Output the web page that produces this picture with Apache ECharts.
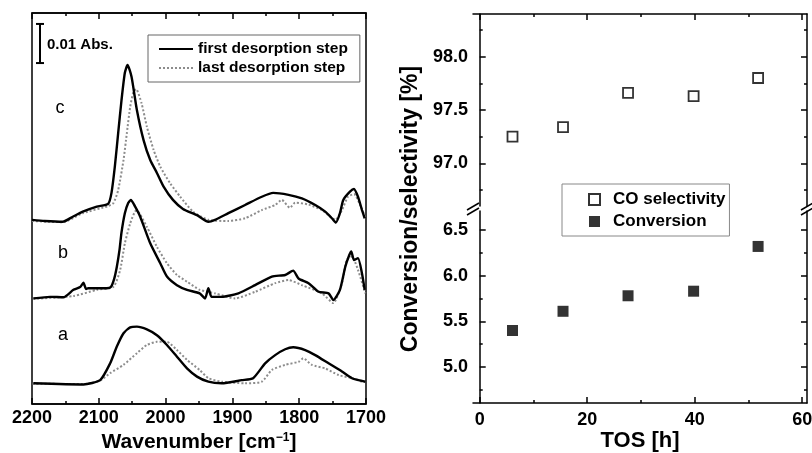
<!DOCTYPE html>
<html>
<head>
<meta charset="utf-8">
<script src="https://cdn.jsdelivr.net/npm/echarts@6/dist/echarts.min.js"></script>
<style>
  html, body { margin: 0; padding: 0; background: #fff; }
  #chart { width: 812px; height: 453px; }
</style>
</head>
<body>
<div id="chart"></div>
<script>
// IR spectra: [wavenumber, absorbance x 1000 incl. stacking offset]
var cFirst = [[2200,47.1],[2181,46.8],[2154,46.6],[2139,47.9],[2124,49.2],[2103,50.5],[2086,51.2],[2081,54.0],[2076,60.7],[2071,69.3],[2066,77.7],[2061,84.7],[2057,86.7],[2051,83.7],[2043,75.2],[2033,67.5],[2023,62.4],[2013,59.1],[2003,55.6],[1989,52.2],[1974,49.9],[1953,48.3],[1936,46.6],[1926,47.1],[1906,48.8],[1881,50.9],[1856,53.0],[1839,54.0],[1816,53.5],[1796,52.6],[1776,50.9],[1761,49.2],[1751,47.5],[1745,46.4],[1739,48.8],[1734,52.2],[1724,54.3],[1718,55.0],[1712,53.0],[1706,49.6],[1702,47.5]];
var cLast = [[2200,46.8],[2154,46.5],[2124,48.8],[2086,50.6],[2078,51.4],[2071,54.7],[2063,62.4],[2058,69.3],[2053,76.0],[2048,79.9],[2044,80.5],[2036,76.9],[2028,70.9],[2018,65.0],[2008,60.7],[1993,56.4],[1978,53.0],[1959,49.2],[1936,47.1],[1906,46.8],[1881,47.5],[1856,49.6],[1836,50.9],[1826,52.2],[1814,50.2],[1806,51.5],[1786,51.0],[1766,49.6],[1746,47.1],[1736,49.6],[1727,53.0],[1718,53.7],[1709,51.0],[1701,47.6]];
var bFirst = [[2198,27.0],[2173,27.4],[2153,27.3],[2138,29.2],[2128,29.9],[2123,31.0],[2119,29.4],[2116,29.6],[2088,29.6],[2082,29.9],[2077,32.0],[2073,35.1],[2069,39.4],[2066,43.9],[2061,48.8],[2056,51.4],[2052,52.2],[2046,50.6],[2038,47.9],[2023,41.1],[2008,36.0],[1998,32.6],[1983,30.4],[1968,29.2],[1949,28.3],[1941,27.0],[1936,29.6],[1931,27.4],[1916,27.4],[1891,28.3],[1866,30.4],[1841,32.6],[1821,33.0],[1809,34.1],[1801,32.1],[1786,30.9],[1771,28.7],[1756,28.3],[1749,26.6],[1739,29.2],[1731,35.1],[1725,38.1],[1722,39.0],[1718,36.8],[1712,37.3],[1706,33.4],[1702,29.2]];
var bLast = [[2198,26.9],[2138,27.6],[2103,29.2],[2078,30.0],[2068,34.3],[2061,41.1],[2053,46.2],[2046,49.2],[2043,49.4],[2028,45.3],[2013,40.2],[1998,36.0],[1983,33.0],[1968,31.3],[1949,29.2],[1926,28.3],[1896,27.0],[1866,28.7],[1836,30.9],[1816,31.7],[1796,30.4],[1766,28.3],[1749,25.8],[1736,30.9],[1729,36.8],[1721,37.7],[1712,34.3],[1701,28.3]];
var aFirst = [[2198,5.3],[2123,5.0],[2098,6.1],[2083,10.4],[2073,14.7],[2063,18.1],[2053,19.6],[2043,19.8],[2028,19.1],[2013,17.6],[1998,15.1],[1983,12.1],[1968,9.1],[1953,7.0],[1936,5.7],[1916,5.3],[1886,6.1],[1869,6.6],[1851,10.4],[1836,12.5],[1821,14.0],[1809,14.5],[1791,13.8],[1776,12.5],[1756,10.4],[1736,8.3],[1721,6.6],[1711,6.1],[1701,5.7]];
var aLast = [[2199,5.2],[2124,5.1],[2098,6.0],[2083,7.9],[2063,10.0],[2043,13.0],[2028,15.1],[2013,15.9],[1998,15.9],[1983,13.8],[1968,11.3],[1949,8.7],[1936,6.6],[1916,5.7],[1881,5.3],[1856,5.7],[1841,8.7],[1821,10.0],[1801,10.8],[1794,11.7],[1781,10.0],[1761,9.1],[1741,7.4],[1721,6.6],[1706,5.7]];
var scaleBar = [[2188, 87.2], [2188, 97.2]]; // 0.01 Abs

// time on stream
var tos = [6.1, 15.5, 27.6, 39.8, 51.8];
var coSelectivity = [97.25, 97.34, 97.66, 97.63, 97.80];
var conversion = [5.40, 5.61, 5.78, 5.83, 6.32];

var tosMajor = [0, 20, 40, 60];
var tosMinor = [10, 30, 50];
var selMajor = [97.0, 97.5, 98.0];
var selMinor = [96.75, 97.25, 97.75, 98.25];
var convMajor = [5.0, 5.5, 6.0, 6.5];
var convMinor = [4.75, 5.25, 5.75, 6.25];

var FONT = '"Liberation Sans", Arial, sans-serif';
var lineStyle = { color: "#000", width: 1.5 };

function zip(xs, ys) {
  return xs.map(function (x, i) { return [x, ys[i]]; });
}

// value axis with ticks only at given values
function tickAxis(grid, pos, min, max, ticks, len, opts) {
  var ax = {
    type: "value",
    gridIndex: grid,
    position: pos,
    min: min,
    max: max,
    axisLine: { show: !!(opts && opts.line), lineStyle: lineStyle },
    axisTick: { show: true, inside: true, length: len, customValues: ticks, lineStyle: lineStyle },
    axisLabel: { show: false },
    splitLine: { show: false }
  };
  if (opts && opts.labels) {
    ax.axisLabel = {
      show: true,
      customValues: ticks,
      margin: opts.margin,
      color: "#000",
      fontSize: 18,
      fontWeight: "bold",
      fontFamily: FONT,
      formatter: opts.fmt
    };
  }
  return ax;
}

var fmt1 = function (v) { return v.toFixed(1); };
var fmtPlain = function (v) { return String(v); };

var X_MIN = -1.25, X_MAX = 60.9;

var xAxes = [
  {
    type: "value", gridIndex: 0, position: "bottom",
    min: 1700, max: 2200, interval: 100, inverse: true,
    axisLine: { show: true, lineStyle: lineStyle },
    axisTick: { show: true, inside: true, length: 6, lineStyle: lineStyle },
    minorTick: { show: true, splitNumber: 2, length: 3, lineStyle: lineStyle },
    axisLabel: { color: "#000", fontSize: 18, fontWeight: "bold", fontFamily: FONT, margin: 5, formatter: fmtPlain },
    splitLine: { show: false },
    name: "Wavenumber [cm{sup|−1}]",
    nameLocation: "middle",
    nameGap: 18,
    nameTextStyle: {
      color: "#000", fontSize: 21, fontWeight: "bold", fontFamily: FONT,
      rich: { sup: { fontSize: 12, fontWeight: "bold", fontFamily: FONT, verticalAlign: "top", color: "#000" } }
    }
  },
  {
    type: "value", gridIndex: 0, position: "top",
    min: 1700, max: 2200, interval: 100, inverse: true,
    axisLine: { show: true, lineStyle: lineStyle },
    axisTick: { show: true, inside: true, length: 6, lineStyle: lineStyle },
    minorTick: { show: true, splitNumber: 2, length: 3, lineStyle: lineStyle },
    axisLabel: { show: false },
    splitLine: { show: false }
  }
];
var bottomTos = tickAxis(2, "bottom", X_MIN, X_MAX, tosMajor, 6, { line: true, labels: true, margin: 8, fmt: fmtPlain });
bottomTos.name = "TOS [h]";
bottomTos.nameLocation = "middle";
bottomTos.nameGap = 23;
bottomTos.nameTextStyle = { color: "#000", fontSize: 22, fontWeight: "bold", fontFamily: FONT };
xAxes.push(bottomTos);
xAxes.push(tickAxis(2, "bottom", X_MIN, X_MAX, tosMinor, 3));
xAxes.push(tickAxis(1, "top", X_MIN, X_MAX, tosMajor, 6, { line: true }));
xAxes.push(tickAxis(1, "top", X_MIN, X_MAX, tosMinor, 3));

var SEL_MIN = 96.6, SEL_MAX = 98.4;
var CONV_MIN = 4.606, CONV_MAX = 6.708;

var yAxes = [
  { type: "value", gridIndex: 0, min: 0, max: 100, show: false, splitLine: { show: false } },
  tickAxis(1, "left", SEL_MIN, SEL_MAX, selMajor, 6, { line: true, labels: true, margin: 5, fmt: fmt1 }),
  tickAxis(1, "left", SEL_MIN, SEL_MAX, selMinor, 3),
  tickAxis(1, "right", SEL_MIN, SEL_MAX, selMajor, 6, { line: true }),
  tickAxis(1, "right", SEL_MIN, SEL_MAX, selMinor, 3),
  tickAxis(2, "left", CONV_MIN, CONV_MAX, convMajor, 6, { line: true, labels: true, margin: 5, fmt: fmt1 }),
  tickAxis(2, "left", CONV_MIN, CONV_MAX, convMinor, 3),
  tickAxis(2, "right", CONV_MIN, CONV_MAX, convMajor, 6, { line: true }),
  tickAxis(2, "right", CONV_MIN, CONV_MAX, convMinor, 3)
];

var FIRST = "first desorption step";
var LAST = "last desorption step";

function lastLine(data) {
  return {
    name: LAST, type: "line", xAxisIndex: 0, yAxisIndex: 0, data: data,
    symbol: "none", smooth: 0.2, z: 2,
    itemStyle: { color: "#8c8c8c" },
    lineStyle: { color: "#8c8c8c", width: 2, type: [2, 2] }
  };
}
function firstLine(data) {
  return {
    name: FIRST, type: "line", xAxisIndex: 0, yAxisIndex: 0, data: data,
    symbol: "none", smooth: 0.2, z: 3,
    itemStyle: { color: "#000" },
    lineStyle: { color: "#000", width: 2.4 }
  };
}

var chart = echarts.init(document.getElementById("chart"));
chart.setOption({
  animation: false,
  textStyle: { fontFamily: FONT },
  grid: [
    { left: 32, top: 13, width: 334, height: 391, show: true, borderColor: "#000", borderWidth: 1.5, outerBoundsMode: "none" },
    { left: 473, top: 14, width: 334, height: 192, outerBoundsMode: "none" },
    { left: 473, top: 211, width: 334, height: 192, outerBoundsMode: "none" }
  ],
  xAxis: xAxes,
  yAxis: yAxes,
  legend: [
    {
      data: [FIRST, LAST],
      left: 148, top: 35,
      orient: "vertical",
      itemWidth: 34, itemHeight: 14, itemGap: 3,
      padding: [6, 12, 6, 10],
      borderColor: "#666", borderWidth: 1,
      selectedMode: false,
      itemStyle: { opacity: 0 },
      textStyle: { color: "#000", fontSize: 15.5, fontWeight: "bold", fontFamily: FONT }
    },
    {
      data: ["CO selectivity", "Conversion"],
      left: 562, top: 184,
      orient: "vertical",
      itemWidth: 11, itemHeight: 11, itemGap: 5,
      padding: [7, 4, 6, 26],
      borderColor: "#888", borderWidth: 1,
      selectedMode: false,
      textStyle: { color: "#000", fontSize: 17, fontWeight: "bold", fontFamily: FONT, padding: [0, 0, 0, 8] }
    }
  ],
  graphic: [
    { type: "text", x: 47, y: 45, style: { text: "0.01 Abs.", fontSize: 15, fontWeight: "bold", fontFamily: FONT, fill: "#000", verticalAlign: "middle" } },
    { type: "text", x: 60, y: 108, style: { text: "c", fontSize: 18, fontFamily: FONT, fill: "#000", align: "center", verticalAlign: "middle" } },
    { type: "text", x: 63, y: 253, style: { text: "b", fontSize: 18, fontFamily: FONT, fill: "#000", align: "center", verticalAlign: "middle" } },
    { type: "text", x: 63, y: 335, style: { text: "a", fontSize: 18, fontFamily: FONT, fill: "#000", align: "center", verticalAlign: "middle" } },
    { type: "text", x: 411, y: 209, rotation: Math.PI / 2, style: { text: "Conversion/selectivity [%]", fontSize: 23, fontWeight: "bold", fontFamily: FONT, fill: "#000", align: "center", verticalAlign: "middle" } },
    // axis break marks
    { type: "line", shape: { x1: 467, y1: 210, x2: 479, y2: 203 }, style: { stroke: "#000", lineWidth: 1.5 } },
    { type: "line", shape: { x1: 467, y1: 215, x2: 479, y2: 208 }, style: { stroke: "#000", lineWidth: 1.5 } },
    { type: "line", shape: { x1: 801, y1: 210, x2: 813, y2: 203 }, style: { stroke: "#000", lineWidth: 1.5 } },
    { type: "line", shape: { x1: 801, y1: 215, x2: 813, y2: 208 }, style: { stroke: "#000", lineWidth: 1.5 } }
  ],
  series: [
    lastLine(aLast), lastLine(bLast), lastLine(cLast),
    firstLine(aFirst), firstLine(bFirst), firstLine(cFirst),
    {
      name: "scale", type: "line", xAxisIndex: 0, yAxisIndex: 0, data: scaleBar,
      symbol: "rect", symbolSize: [8, 2], itemStyle: { color: "#000" },
      lineStyle: { color: "#000", width: 2 }
    },
    {
      name: "CO selectivity", type: "scatter", xAxisIndex: 4, yAxisIndex: 1,
      data: zip(tos, coSelectivity),
      symbol: "rect", symbolSize: 10,
      itemStyle: { color: "#fff", borderColor: "#000", borderWidth: 1.8 }
    },
    {
      name: "Conversion", type: "scatter", xAxisIndex: 2, yAxisIndex: 5,
      data: zip(tos, conversion),
      symbol: "rect", symbolSize: 11,
      itemStyle: { color: "#000" }
    }
  ]
});
</script>
</body>
</html>
